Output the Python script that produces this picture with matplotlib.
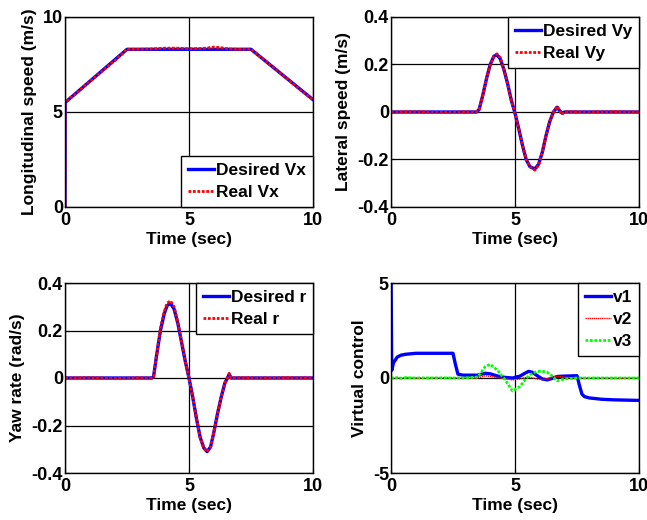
import matplotlib
matplotlib.use("Agg")
import matplotlib.pyplot as plt

plt.rcParams['font.family'] = ['Liberation Sans', 'DejaVu Sans']
plt.rcParams['font.weight'] = 'bold'
plt.rcParams['axes.unicode_minus'] = False

# ---- Longitudinal speed ----
t_vx_des = [0, 0.005, 2.5, 7.5, 10]
vx_des = [0, 5.5, 8.3, 8.3, 5.65]
t_vx_real = [0, 0.005, 0.5, 1.0, 1.5, 2.0, 2.5, 3.0, 3.5, 4.0, 4.5, 5.0, 5.5, 5.8, 6.0, 6.3, 6.6, 7.0, 7.5, 8.0, 8.5, 9.0, 9.5, 10]
vx_real = [0, 5.5, 6.05, 6.6, 7.15, 7.7, 8.3, 8.3, 8.32, 8.36, 8.36, 8.33, 8.34, 8.38, 8.42, 8.38, 8.32, 8.3, 8.3, 7.77, 7.25, 6.7, 6.15, 5.65]

# ---- Lateral speed ----
t_vy = [0, 1, 2, 3, 3.45, 3.55, 3.7, 3.85, 4.0, 4.15, 4.27, 4.4, 4.55, 4.7, 4.85, 5.0, 5.15, 5.3, 5.45, 5.6, 5.8, 5.95, 6.1, 6.25, 6.4, 6.55, 6.7, 6.8, 6.9, 7.0, 8, 9, 10]
vy_des = [0, 0, 0, 0, 0, 0.01, 0.07, 0.14, 0.2, 0.235, 0.24, 0.225, 0.18, 0.12, 0.05, -0.005, -0.07, -0.14, -0.2, -0.23, -0.24, -0.22, -0.17, -0.1, -0.04, 0.0, 0.02, 0.005, -0.005, 0, 0, 0, 0]
vy_real = [0, 0.002, -0.002, 0.001, 0, 0.01, 0.07, 0.14, 0.2, 0.235, 0.245, 0.23, 0.18, 0.12, 0.05, -0.005, -0.07, -0.14, -0.2, -0.23, -0.245, -0.225, -0.17, -0.1, -0.04, 0.0, 0.025, 0.005, -0.01, 0.002, 0, 0.002, 0]

# ---- Yaw rate ----
t_r = [0, 1, 2, 3, 3.5, 3.57, 3.7, 3.85, 4.0, 4.12, 4.25, 4.4, 4.55, 4.7, 4.85, 5.0, 5.15, 5.3, 5.45, 5.6, 5.73, 5.87, 6.0, 6.15, 6.3, 6.45, 6.55, 6.62, 6.7, 7, 8, 9, 10]
r_des = [0, 0, 0, 0, 0, 0.005, 0.1, 0.2, 0.27, 0.305, 0.315, 0.29, 0.23, 0.15, 0.07, 0.0, -0.08, -0.17, -0.25, -0.295, -0.31, -0.29, -0.23, -0.15, -0.08, -0.02, 0.0, 0.015, 0.0, 0, 0, 0, 0]
r_real = [0, 0.002, -0.002, 0.001, 0, 0.005, 0.1, 0.21, 0.28, 0.315, 0.325, 0.3, 0.235, 0.155, 0.07, 0.0, -0.08, -0.17, -0.25, -0.295, -0.31, -0.29, -0.23, -0.15, -0.08, -0.02, 0.0, 0.02, 0.0, 0.002, 0, 0.002, 0]

# ---- Virtual control ----
t_v = [0, 0.005, 0.03, 0.1, 0.25, 0.4, 0.6, 1.0, 2.0, 2.5, 2.6, 2.7, 2.9, 3.5, 3.8, 4.0, 4.3, 4.6, 4.9, 5.2, 5.4, 5.55, 5.7, 5.9, 6.1, 6.3, 6.5, 6.7, 7.0, 7.5, 7.6, 7.7, 7.8, 8.0, 8.5, 9.0, 10]
v1 = [5.0, 5.0, 0.4, 0.8, 1.1, 1.2, 1.25, 1.3, 1.3, 1.3, 0.7, 0.2, 0.15, 0.15, 0.25, 0.22, 0.1, 0.03, 0.0, 0.1, 0.25, 0.35, 0.3, 0.12, -0.05, -0.1, -0.02, 0.08, 0.1, 0.12, -0.4, -0.85, -0.98, -1.05, -1.12, -1.15, -1.18]
v2 = [0, 0, 0.02, -0.02, 0.02, -0.01, 0.02, 0, 0.01, 0, 0.02, -0.02, 0.01, 0.0, 0.12, 0.08, 0.02, -0.05, -0.1, -0.05, 0.02, 0.05, 0.0, -0.05, -0.08, -0.03, 0.05, 0.1, 0.03, 0.0, 0.02, 0.0, 0.01, 0.0, 0.01, 0.0, 0.0]
v3 = [0, 0, 0.02, -0.02, 0.02, -0.01, 0.02, 0, 0.01, 0, 0.0, 0.01, 0.0, 0.05, 0.6, 0.72, 0.4, -0.1, -0.68, -0.45, -0.1, 0.1, 0.25, 0.35, 0.35, 0.3, 0.1, -0.15, -0.05, 0.0, 0.0, 0.01, 0.0, 0.0, 0.0, 0.0, 0.0]

W, H = 647, 520
fig = plt.figure(figsize=(W / 100, H / 100), dpi=100)

def make_ax(l, t, r, b):
    return fig.add_axes([l / W, 1 - b / H, (r - l) / W, (b - t) / H])

TFS = 13
LFS = 12.5

def style(ax, ylim, yticks, yticklabels, ylabel):
    ax.set_xlim(0, 10)
    ax.set_ylim(*ylim)
    ax.set_xticks([0, 5, 10])
    ax.set_yticks(yticks)
    ax.set_yticklabels(yticklabels)
    ax.tick_params(direction='in', length=3, labelsize=TFS, width=0.8)
    ax.tick_params(axis='x', pad=3.5)
    ax.tick_params(axis='y', pad=1.5)
    for lab in ax.get_xticklabels() + ax.get_yticklabels():
        lab.set_fontweight('bold')
    ax.grid(True, color='black', linewidth=0.9, linestyle='-')
    ax.set_axisbelow(True)
    for s in ax.spines.values():
        s.set_linewidth(1.0)
        s.set_color('black')
    ax.set_xlabel('Time (sec)', fontsize=LFS, fontweight='bold', labelpad=2.5)
    ax.set_ylabel(ylabel, fontsize=LFS, fontweight='bold', labelpad=4.5)

def leg(ax, loc):
    lg = ax.legend(loc=loc, borderaxespad=0, fancybox=False, framealpha=1,
                   edgecolor='black', prop={'weight': 'bold', 'size': LFS},
                   handlelength=1.5, handletextpad=0.1, borderpad=0.4,
                   labelspacing=0.4)
    lg.get_frame().set_linewidth(1.0)

BLUE = '#0000ff'
RED = '#ff0000'
GREEN = '#00ff00'

ax1 = make_ax(65, 17, 313, 207)
ax1.plot(t_vx_des, vx_des, color=BLUE, lw=2.4, label='Desired Vx')
ax1.plot(t_vx_real, vx_real, color=RED, lw=2.0, ls=(0, (1, 0.6)), label='Real Vx')
style(ax1, (0, 10), [0, 5, 10], ['0', '5', '10'], 'Longitudinal speed (m/s)')
leg(ax1, 'lower right')

ylab4 = ['-0.4', '-0.2', '0', '0.2', '0.4']

ax2 = make_ax(391, 17, 639, 207)
ax2.plot(t_vy, vy_des, color=BLUE, lw=2.4, label='Desired Vy')
ax2.plot(t_vy, vy_real, color=RED, lw=2.0, ls=(0, (1, 0.6)), label='Real Vy')
style(ax2, (-0.4, 0.4), [-0.4, -0.2, 0, 0.2, 0.4], ylab4, 'Lateral speed (m/s)')
leg(ax2, 'upper right')

ax3 = make_ax(65, 283, 313, 473)
ax3.plot(t_r, r_des, color=BLUE, lw=2.4, label='Desired r')
ax3.plot(t_r, r_real, color=RED, lw=2.0, ls=(0, (1, 0.6)), label='Real r')
style(ax3, (-0.4, 0.4), [-0.4, -0.2, 0, 0.2, 0.4], ylab4, 'Yaw rate (rad/s)')
leg(ax3, 'upper right')

ax4 = make_ax(391, 283, 639, 473)
ax4.plot(t_v, v1, color=BLUE, lw=2.4, label='v1')
ax4.plot(t_v, v2, color=RED, lw=1.0, ls=(0, (1, 0.5)), label='v2')
ax4.plot(t_v, v3, color=GREEN, lw=2.0, ls=(0, (1, 0.6)), label='v3')
style(ax4, (-5, 5), [-5, 0, 5], ['-5', '0', '5'], 'Virtual control')
leg(ax4, 'upper right')

fig.savefig('out.png', dpi=100)
